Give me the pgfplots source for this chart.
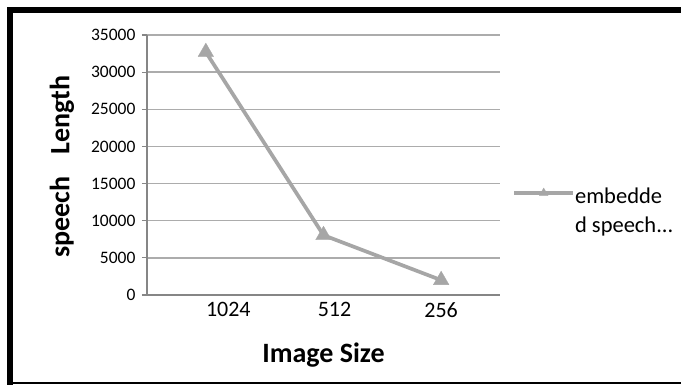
\documentclass[border=0pt]{standalone}
\usepackage{pgfplots}
\pgfplotsset{compat=1.18}
\usepackage{fontspec}
\setmainfont{Carlito}
\definecolor{serie}{RGB}{166,166,166}
\definecolor{gridc}{RGB}{172,172,172}
\definecolor{axc}{RGB}{134,134,134}
\begin{document}
\begin{tikzpicture}
\useasboundingbox (0pt,0pt) rectangle (681pt,385pt);
\fill[white] (0pt,0pt) rectangle (681pt,385pt);
\draw[line width=6pt] (10pt,0pt) -- (10pt,375pt) -- (685pt,375pt);
\draw[line width=1.6pt] (10pt,2pt) -- (685pt,2pt);
\begin{axis}[
  at={(147pt,90pt)}, anchor=south west,
  scale only axis, width=353pt, height=260pt,
  xmin=-0.5, xmax=2.5, ymin=0, ymax=35000,
  axis x line*=bottom, axis y line*=left,
  axis line style={draw=axc, line width=1.2pt},
  xtick={0,1,2},
  xticklabels={\hspace*{45pt}1024,\hspace*{22pt}512,256},
  minor xtick={0.5,1.5,2.5},
  ytick={0,5000,10000,15000,20000,25000,30000,35000},
  tick align=outside,
  major tick length=5pt, minor tick length=5pt,
  xtick style={draw=none},
  minor tick style={draw=axc, line width=1.2pt},
  ytick style={draw=axc, line width=1.2pt},
  ymajorgrids,
  grid style={draw=gridc, line width=1.3pt},
  /pgf/number format/assume math mode=true,
  /pgf/number format/1000 sep={},
  scaled y ticks=false,
  yticklabel style={font=\fontsize{17.5}{20}\selectfont, xshift=-3pt},
  xticklabel style={font=\fontsize{22}{26}\selectfont, inner sep=0pt, yshift=-2pt},
  xlabel={Image Size},
  ylabel={speech\hspace{22pt}Length},
  xlabel style={font=\bfseries\fontsize{28}{32}\selectfont, at={(axis description cs:0.5,-0.2615)}, anchor=base},
  ylabel style={font=\bfseries\fontsize{28}{32}\selectfont, at={(axis description cs:-0.241,0.494)}, anchor=center},
  legend style={at={(axis description cs:1.035,0.438)}, anchor=north west, draw=none, fill=none,
    inner sep=0pt, outer sep=0pt,
    font=\fontsize{22.5}{29}\selectfont, column sep=-2pt},
  legend cell align=left,
  legend image code/.code={
    \draw[#1, mark repeat=2, mark phase=2, mark size=5pt] plot coordinates {(0pt,1pt)(29.5pt,1pt)(59pt,1pt)};
  },
  clip=false,
]
\addplot[color=serie, line width=3.7pt, mark=triangle*, mark size=9pt, mark options={solid, line width=0.3pt, fill=serie, draw=serie}]
  coordinates {(0,32700) (1,8050) (2,2000)};
\addlegendentry{\begin{tabular}[t]{@{}l@{}}embedde\\d speech...\end{tabular}}
\end{axis}
\end{tikzpicture}
\end{document}
